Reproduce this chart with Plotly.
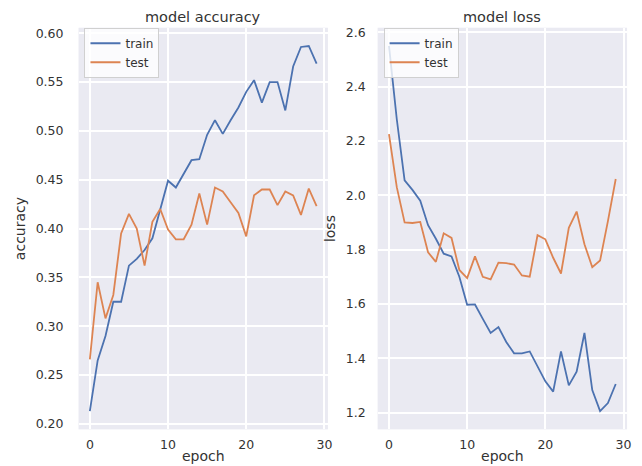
import plotly.graph_objects as go

epochs = list(range(30))

train_acc = [0.213, 0.265, 0.290, 0.325, 0.325, 0.362, 0.369, 0.378, 0.390, 0.420,
             0.449, 0.442, 0.456, 0.470, 0.471, 0.496, 0.511, 0.497, 0.511, 0.524,
             0.540, 0.552, 0.529, 0.550, 0.550, 0.521, 0.566, 0.586, 0.587, 0.569]
test_acc = [0.266, 0.345, 0.308, 0.332, 0.395, 0.415, 0.400, 0.362, 0.407, 0.420,
            0.399, 0.389, 0.389, 0.404, 0.436, 0.404, 0.442, 0.438, 0.427, 0.416,
            0.392, 0.434, 0.440, 0.440, 0.424, 0.438, 0.434, 0.414, 0.441, 0.423]

train_loss = [2.550, 2.280, 2.055, 2.020, 1.980, 1.890, 1.840, 1.785, 1.775, 1.700,
              1.597, 1.598, 1.545, 1.493, 1.515, 1.460, 1.418, 1.418, 1.425, 1.370,
              1.315, 1.277, 1.425, 1.300, 1.350, 1.493, 1.283, 1.205, 1.235, 1.305]
test_loss = [2.225, 2.030, 1.900, 1.898, 1.902, 1.790, 1.755, 1.860, 1.843, 1.725,
             1.695, 1.775, 1.700, 1.690, 1.752, 1.750, 1.745, 1.705, 1.700, 1.853,
             1.838, 1.770, 1.712, 1.880, 1.940, 1.820, 1.735, 1.760, 1.905, 2.060]

acc_ticks = [0.20, 0.25, 0.30, 0.35, 0.40, 0.45, 0.50, 0.55, 0.60]
loss_ticks = [1.2, 1.4, 1.6, 1.8, 2.0, 2.2, 2.4, 2.6]
epoch_ticks = [0, 10, 20, 30]

BLUE = "#4C72B0"
ORANGE = "#DD8452"
FONT = "DejaVu Sans"
TXT = "#333333"

fig = go.Figure()
fig.add_trace(go.Scatter(x=epochs, y=train_acc, mode="lines", name="train",
                         line=dict(color=BLUE, width=1.8), xaxis="x", yaxis="y", legend="legend"))
fig.add_trace(go.Scatter(x=epochs, y=test_acc, mode="lines", name="test",
                         line=dict(color=ORANGE, width=1.8), xaxis="x", yaxis="y", legend="legend"))
fig.add_trace(go.Scatter(x=epochs, y=train_loss, mode="lines", name="train",
                         line=dict(color=BLUE, width=1.8), xaxis="x2", yaxis="y2", legend="legend2"))
fig.add_trace(go.Scatter(x=epochs, y=test_loss, mode="lines", name="test",
                         line=dict(color=ORANGE, width=1.8), xaxis="x2", yaxis="y2", legend="legend2"))

W, H = 642, 466
dx1 = [79 / W, 330 / W]
dx2 = [380 / W, 631 / W]
dy = [1 - 431 / H, 1 - 25 / H]

tick_font = dict(family=FONT, size=12.5, color=TXT)
label_font = dict(family=FONT, size=14, color=TXT)

xaxis_common = dict(showgrid=True, gridcolor="white", gridwidth=1.5, zeroline=False,
                    showline=False, ticks="", tickfont=tick_font, ticklabelstandoff=6)
yaxis_common = dict(showgrid=True, gridcolor="white", gridwidth=1.5, zeroline=False,
                    showline=False, ticks="", tickfont=tick_font)

legend_common = dict(bgcolor="rgba(255,255,255,0.8)", bordercolor="#d0d0d0", borderwidth=1,
                     font=dict(family=FONT, size=12, color=TXT), xanchor="left", yanchor="top",
                     tracegroupgap=0, itemwidth=30)

fig.update_layout(
    width=W, height=H,
    margin=dict(l=0, r=0, t=0, b=0),
    paper_bgcolor="white",
    plot_bgcolor="#EAEAF2",
    font=dict(family=FONT, color=TXT),
    xaxis=dict(xaxis_common, domain=dx1, range=[-1.45, 30.45], tickvals=epoch_ticks,
               anchor="y", title=dict(text="epoch", font=label_font, standoff=0)),
    yaxis=dict(yaxis_common, domain=dy, range=[0.1943, 0.6057], tickvals=acc_ticks,
               tickformat=".2f", anchor="x", ticklabelstandoff=14,
               title=dict(text="accuracy", font=label_font, standoff=6)),
    xaxis2=dict(xaxis_common, domain=dx2, range=[-1.45, 30.45], tickvals=epoch_ticks,
                anchor="y2", title=dict(text="epoch", font=label_font, standoff=0)),
    yaxis2=dict(yaxis_common, domain=dy, range=[1.138, 2.617], tickvals=loss_ticks,
                tickformat=".1f", anchor="x2", ticklabelstandoff=11,
                title=dict(text="loss", font=label_font, standoff=6)),
    legend=dict(legend_common, x=dx1[0] + 6 / W, y=dy[1]),
    legend2=dict(legend_common, x=dx2[0] + 6 / W, y=dy[1]),
    annotations=[
        dict(text="model accuracy", x=(dx1[0] + dx1[1]) / 2, y=dy[1], xref="paper", yref="paper",
             xanchor="center", yanchor="bottom", yshift=1, showarrow=False,
             font=dict(family=FONT, size=14.5, color=TXT)),
        dict(text="model loss", x=(dx2[0] + dx2[1]) / 2, y=dy[1], xref="paper", yref="paper",
             xanchor="center", yanchor="bottom", yshift=1, showarrow=False,
             font=dict(family=FONT, size=14.5, color=TXT)),
    ],
)

fig.write_html("out.html")
